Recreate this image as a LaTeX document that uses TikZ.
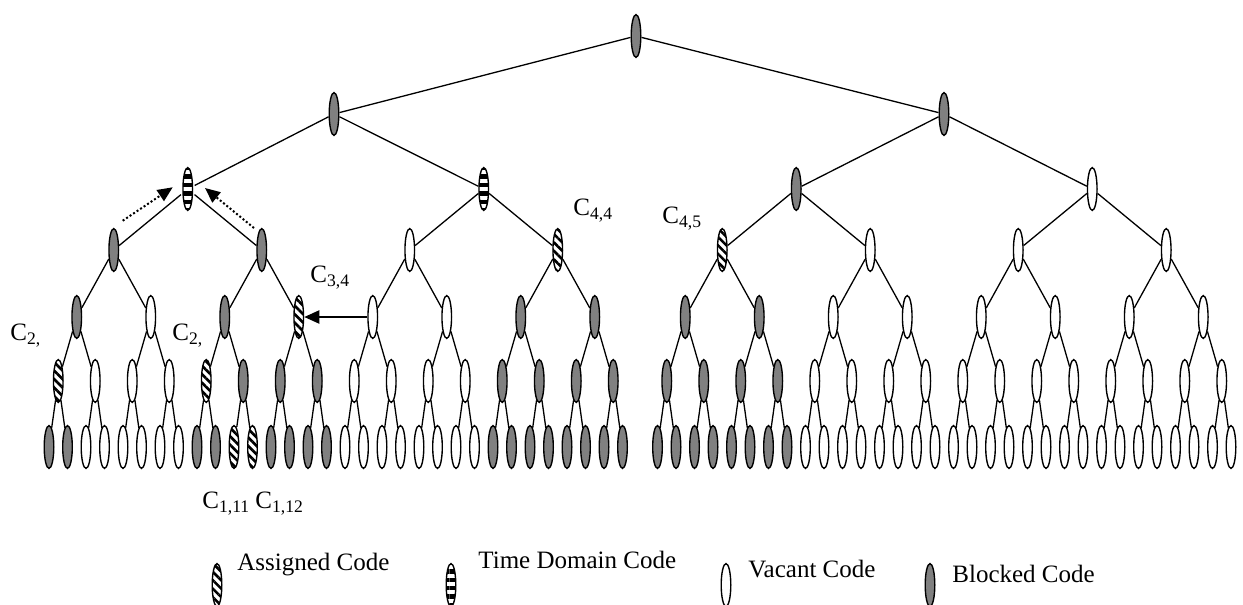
\documentclass[tikz,border=0pt]{standalone}
\usepackage{fontspec}
\setmainfont{Liberation Serif}
\usetikzlibrary{shapes.geometric,patterns.meta,arrows.meta}
\definecolor{blockgray}{RGB}{128,128,128}
\newcommand\cdsub[1]{\raisebox{-0.35ex}{\fontsize{8.8}{9}\selectfont #1}}
\begin{document}
\begin{tikzpicture}[x=0.5pt,y=-0.5pt,
  code/.style={ellipse, draw=black, line width=0.7pt, inner sep=0pt, minimum width=4.8pt, minimum height=21.4pt},
  blk/.style={code, fill=blockgray},
  vac/.style={code, fill=white},
  asg/.style={code, preaction={fill=white}, pattern={Lines[angle=-45,distance=3pt,line width=1.3pt]}},
  tdc/.style={code, preaction={fill=white}, pattern={Lines[angle=0,distance=4.2pt,line width=2.2pt]}},
  branch/.style={line width=0.65pt},
  lbl/.style={anchor=base west, inner sep=0pt, font=\fontsize{12.5}{14}\selectfont},
  dotarrow/.style={line width=1pt, dash pattern=on 1pt off 1.1pt, -{Triangle[length=7.5pt,width=6.5pt]}},
  solidarrow/.style={line width=1pt, -{Triangle[length=7.5pt,width=6.5pt]}}
]
\useasboundingbox (0,0) rectangle (1243,605);

% level 1 (leaves)
\foreach \s [count=\i] in {blk,blk,vac,vac,vac,vac,vac,vac,blk,blk,asg,asg,blk,blk,blk,blk,
  vac,vac,vac,vac,vac,vac,vac,vac,blk,blk,blk,blk,blk,blk,blk,blk,
  blk,blk,blk,blk,blk,blk,blk,blk,vac,vac,vac,vac,vac,vac,vac,vac,
  vac,vac,vac,vac,vac,vac,vac,vac,vac,vac,vac,vac,vac,vac,vac,vac}{
  \pgfmathsetmacro\xx{49+18.5*(\i-1)+16.5*(\i>32)}
  \node[\s] (n1-\i) at (\xx,447) {};
}
% level 2
\foreach \s [count=\i] in {asg,vac,vac,vac,asg,blk,blk,blk,vac,vac,vac,vac,blk,blk,blk,blk,
  blk,blk,blk,blk,vac,vac,vac,vac,vac,vac,vac,vac,vac,vac,vac,vac}{
  \pgfmathsetmacro\xx{49+18.5*((\i-1)*2+0.5)+16.5*(\i>16)}
  \node[\s] (n2-\i) at (\xx,381) {};
}
% level 3
\foreach \s [count=\i] in {blk,vac,blk,asg,vac,vac,blk,blk,blk,blk,vac,vac,vac,vac,vac,vac}{
  \pgfmathsetmacro\xx{49+18.5*((\i-1)*4+1.5)+16.5*(\i>8)}
  \node[\s] (n3-\i) at (\xx,317) {};
}
% level 4
\foreach \s [count=\i] in {blk,blk,vac,asg,asg,vac,vac,vac}{
  \pgfmathsetmacro\xx{49+18.5*((\i-1)*8+3.5)+16.5*(\i>4)}
  \node[\s] (n4-\i) at (\xx,250) {};
}
% level 5
\foreach \s [count=\i] in {tdc,tdc,blk,vac}{
  \pgfmathsetmacro\xx{49+18.5*((\i-1)*16+7.5)+16.5*(\i>2)}
  \node[\s] (n5-\i) at (\xx,189) {};
}
% level 6
\node[blk] (n6-1) at (334,114) {};
\node[blk] (n6-2) at (944,114) {};
% root
\node[blk] (n7-1) at (636,36) {};

% branches
\foreach \k in {2,...,7}{
  \pgfmathtruncatemacro\m{2^(7-\k)}
  \pgfmathtruncatemacro\km{\k-1}
  \foreach \j in {1,...,\m}{
    \pgfmathtruncatemacro\a{2*\j-1}
    \pgfmathtruncatemacro\b{2*\j}
    \draw[branch] (n\k-\j) -- (n\km-\a) (n\k-\j) -- (n\km-\b);
  }
}

% arrows
\coordinate (d1s) at (122.7,220.7);
\coordinate (d1e) at (172.7,187.3);
\coordinate (d2s) at (254,228);
\coordinate (d2e) at (205,188);
\draw[dotarrow] (d1s) -- (d1e);
\draw[dotarrow] (d2s) -- (d2e);
\draw[solidarrow] (n3-5) -- (n3-4);

% labels
\node[lbl] (c2a) at (10,340) {C\cdsub{2,}};
\node[lbl] (c2b) at (172,340) {C\cdsub{2,}};
\node[lbl] (c34) at (310,282) {C\cdsub{3,4}};
\node[lbl] (c44) at (573,215) {C\cdsub{4,4}};
\node[lbl] (c45) at (662,223) {C\cdsub{4,5}};
\node[lbl] (c111) at (202,508) {C\cdsub{1,11} C\cdsub{1,12}};

% legend
\node[asg] (ka) at (217,585) {};
\node[lbl] (kat) at (237,570) {Assigned Code};
\node[tdc] (kt) at (451,585) {};
\node[lbl] (ktt) at (478,568) {Time Domain Code};
\node[vac] (kv) at (726,585) {};
\node[lbl] (kvt) at (748,577) {Vacant Code};
\node[blk] (kb) at (930,585) {};
\node[lbl] (kbt) at (952,582) {Blocked Code};
\end{tikzpicture}
\end{document}
